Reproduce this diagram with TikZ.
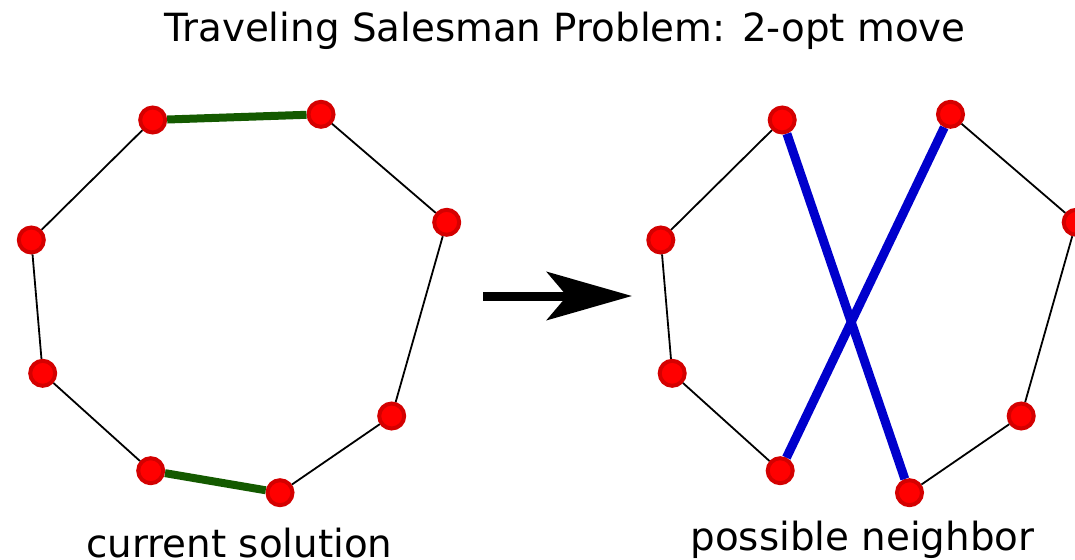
\documentclass[tikz,border=0pt]{standalone}
\usepackage{fontspec}
\setmainfont{DejaVu Sans}
\usetikzlibrary{arrows.meta}
\definecolor{cityred}{HTML}{FF0000}
\definecolor{cityrim}{HTML}{D40000}
\definecolor{oldedge}{HTML}{145A00}
\definecolor{newedge}{HTML}{0000CC}
\begin{document}
\begin{tikzpicture}[x=1pt,y=-1pt,
    city/.style={circle,fill=cityred,draw=cityrim,line width=4pt,
                 minimum size=25pt,inner sep=0pt},
    tour/.style={black,line width=1.8pt},
    removed/.style={oldedge,line width=8pt},
    added/.style={newedge,line width=9pt},
    label/.style={anchor=base,font=\fontsize{38.8}{46}\selectfont}]
    \useasboundingbox (0,0) rectangle (1075,559);
    \def\shift{629.5}
    % cities, same layout on both sides
    \foreach \n/\x/\y in {1/152.7/120,2/321/114.3,3/446.7/222.3,4/391.7/416,
                          5/280/492.7,6/150.7/470.7,7/42.7/373.3,8/31.3/240}
        {\node[city] (l\n) at (\x,\y) {};
         \node[city] (r\n) at ({\x+\shift},\y) {};}
    \foreach \a/\b in {2/3,3/4,4/5,6/7,7/8,8/1}
        {\draw[tour] (l\a)--(l\b);
         \draw[tour] (r\a)--(r\b);}
    \draw[removed] (l1)--(l2);
    \draw[removed] (l5)--(l6);
    \draw[added] (r1)--(r5);
    \draw[added] (r2)--(r6);
    % the move
    \coordinate (from) at (483,296);
    \coordinate (to) at (632,296);
    \draw[line width=9pt,-{Stealth[length=85pt,width=48pt,inset=20pt]}]
        (from)--(to);
    \node[label] (title) at (565,42) {Traveling Salesman Problem: 2-opt move};
    \node[label] (current) at (239.5,557) {current solution};
    \node[label] (neighbor) at (862.5,550) {possible neighbor};
\end{tikzpicture}
\end{document}
